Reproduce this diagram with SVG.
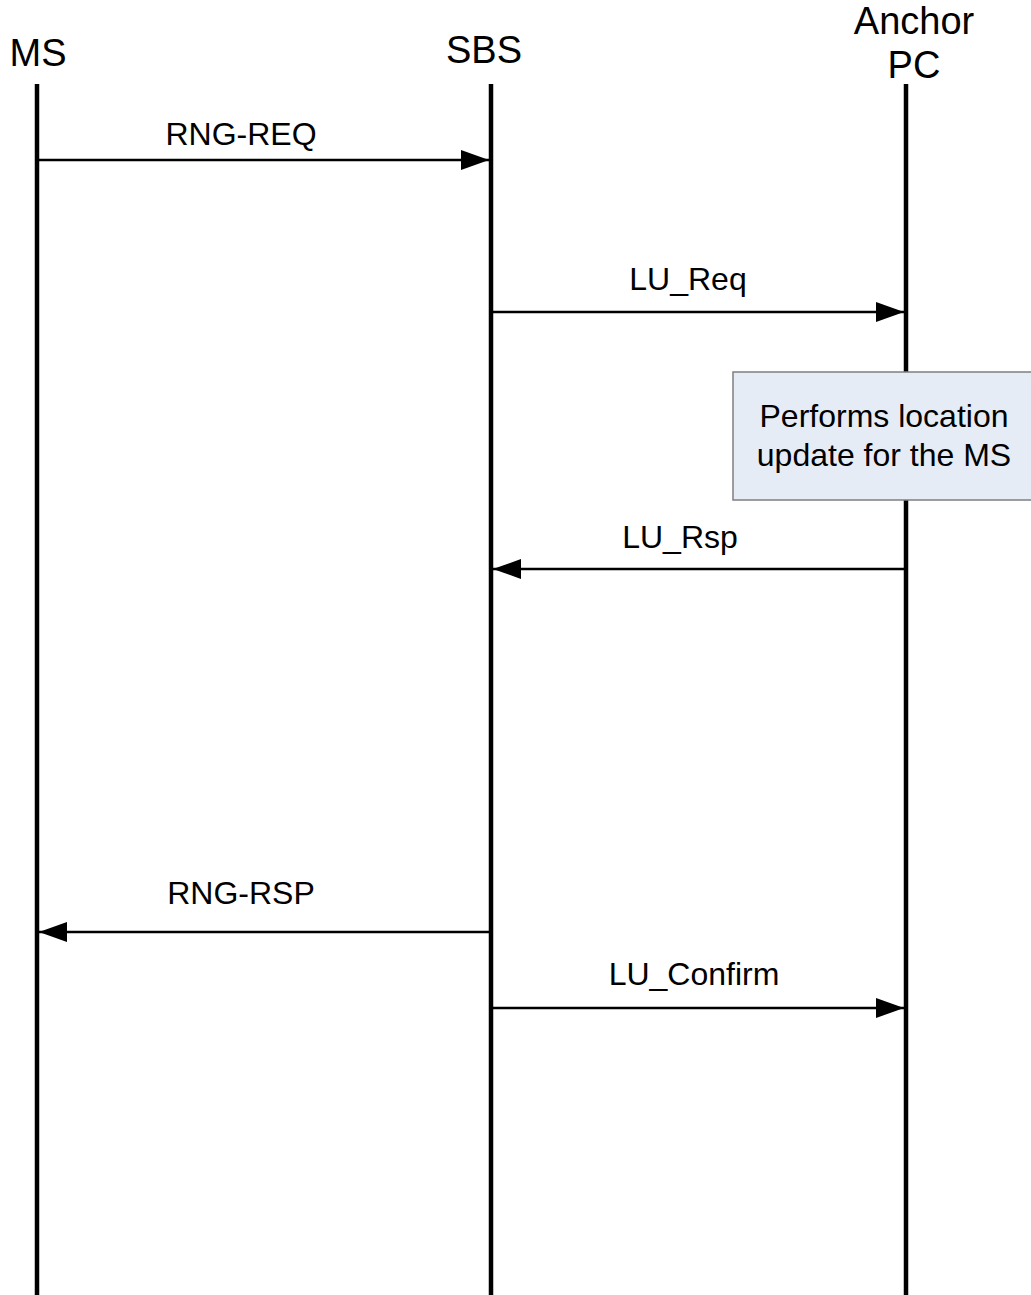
<svg xmlns="http://www.w3.org/2000/svg" width="1031" height="1295" viewBox="0 0 1031 1295">
<style>
.life{stroke:#000;stroke-width:4.5;fill:none}
.msg{stroke:#000;stroke-width:2.5;fill:none}
.hd{font-family:"Liberation Sans",Arial,sans-serif;font-size:38px;fill:#000;text-anchor:middle}
.lb{font-family:"Liberation Sans",Arial,sans-serif;font-size:32px;fill:#000;text-anchor:middle}
.box{fill:#e6ecf6;stroke:#7f7f7f;stroke-width:1.5}
</style>
<defs>
<marker id="ah" viewBox="0 0 28 20" refX="28" refY="10" markerWidth="28" markerHeight="20" markerUnits="userSpaceOnUse" orient="auto">
<path d="M0,0 L28,10 L0,20 Z" fill="#000"/>
</marker>
</defs>
<rect width="1031" height="1295" fill="#fff"/>
<g id="MS">
<text class="hd" x="38" y="66">MS</text>
<line class="life" x1="37" y1="84" x2="37" y2="1295"/>
</g>
<g id="SBS">
<text class="hd" x="484" y="63">SBS</text>
<line class="life" x1="491" y1="84" x2="491" y2="1295"/>
</g>
<g id="AnchorPC">
<text class="hd" x="914" y="34">Anchor</text>
<text class="hd" x="914" y="78">PC</text>
<line class="life" x1="906" y1="84" x2="906" y2="1295"/>
</g>
<g id="note">
<rect class="box" x="733" y="372" width="300" height="128"/>
<text class="lb" x="884" y="427">Performs location</text>
<text class="lb" x="884" y="466">update for the MS</text>
</g>
<g id="connectors">
<line class="msg" x1="39" y1="160" x2="489" y2="160" marker-end="url(#ah)"/>
<text class="lb" x="241" y="145">RNG-REQ</text>
<line class="msg" x1="493" y1="312" x2="904" y2="312" marker-end="url(#ah)"/>
<text class="lb" x="688" y="290">LU_Req</text>
<line class="msg" x1="904" y1="569" x2="493" y2="569" marker-end="url(#ah)"/>
<text class="lb" x="680" y="548">LU_Rsp</text>
<line class="msg" x1="489" y1="932" x2="39" y2="932" marker-end="url(#ah)"/>
<text class="lb" x="241" y="904">RNG-RSP</text>
<line class="msg" x1="493" y1="1008" x2="904" y2="1008" marker-end="url(#ah)"/>
<text class="lb" x="694" y="985">LU_Confirm</text>
</g>
</svg>
